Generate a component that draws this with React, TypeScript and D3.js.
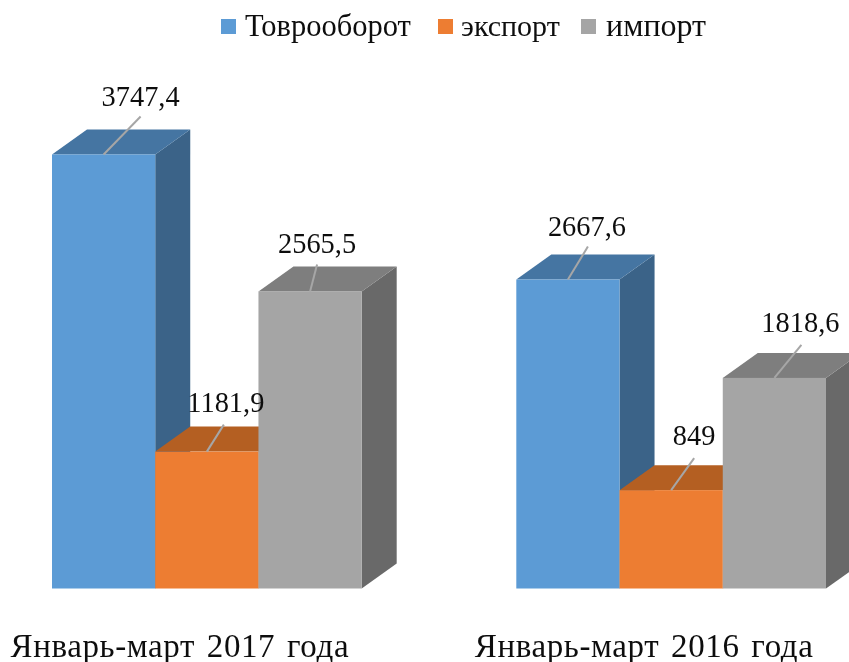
import React from "react";
import * as d3 from "d3";

const categories = ["Январь-март 2017 года", "Январь-март 2016 года"];
const seriesNames = ["Товрооборот", "экспорт", "импорт"];
const turnover = [3747.4, 2667.6];
const exportValues = [1181.9, 849];
const importValues = [2565.5, 1818.6];
const valueLabels = [
  ["3747,4", "2667,6"],
  ["1181,9", "849"],
  ["2565,5", "1818,6"],
];

const frontColors = ["#5B9BD5", "#ED7D31", "#A5A5A5"];
const topColors = ["#4575A2", "#B45F23", "#7E7E7E"];
const sideColors = ["#3A6388", "#B45F23", "#696969"];

// label layout, per series then per category: [label dx, baseline dy, leader end dx, leader end dy]
const labelLayout = [
  [[37, -48.5, 37, -38], [19, -43.5, 20, -33]],
  [[19, -39.5, 17, -27], [23, -45.5, 23, -32]],
  [[7, -38.5, 7, -27], [26, -45.5, 27, -33]],
];

const allSeries = [turnover, exportValues, importValues];
const depthX = 35;
const depthY = 25;
const W = 849;
const H = 662;

const y = d3.scaleLinear().domain([0, 3747.4]).range([588.5, 154.5]);
const xGroup = d3.scaleBand<string>().domain(categories).range([52, 826]).paddingInner(0.333);
const xSeries = d3.scaleBand<string>().domain(seriesNames).range([0, xGroup.bandwidth()]);

const serif = "'Liberation Serif', serif";
const legendX = [221, 438, 581];
const legendTextDx = [24, 23, 25];
const legendFontSize = [30.5, 30, 32];

export default function App() {
  const line = d3.line();
  return (
    <svg
      width={W}
      height={H}
      viewBox={`0 0 ${W} ${H}`}
      style={{ position: "absolute", left: 0, top: 0, display: "block", background: "#fff" }}
    >
      <defs>
        <filter id="soft" x="0" y="0" width="100%" height="100%" filterUnits="userSpaceOnUse" primitiveUnits="userSpaceOnUse">
          <feGaussianBlur stdDeviation="0.45" />
        </filter>
      </defs>
      <g filter="url(#soft)">
        <rect x={0} y={0} width={W} height={H} fill="#fff" />
        {seriesNames.map((name, i) => (
          <g key={name}>
            <rect x={legendX[i]} y={19} width={15} height={15} fill={frontColors[i]} />
            <text x={legendX[i] + legendTextDx[i]} y={36} fontFamily={serif} fontSize={legendFontSize[i]} fill="#111">
              {name}
            </text>
          </g>
        ))}
        {categories.map((cat, c) => {
          const gx = xGroup(cat) as number;
          return (
            <g key={cat}>
              {seriesNames.map((name, s) => {
                const x0 = gx + (xSeries(name) as number);
                const x1 = x0 + xSeries.bandwidth();
                const yTop = y(allSeries[s][c]);
                const yBase = y(0);
                const top = line([[x0, yTop], [x0 + depthX, yTop - depthY], [x1 + depthX, yTop - depthY], [x1, yTop]]) + "Z";
                const side = line([[x1, yTop], [x1 + depthX, yTop - depthY], [x1 + depthX, yBase - depthY], [x1, yBase]]) + "Z";
                return (
                  <g key={name}>
                    <path d={side} fill={sideColors[s]} />
                    <path d={top} fill={topColors[s]} />
                    <rect x={x0} y={yTop} width={x1 - x0} height={yBase - yTop} fill={frontColors[s]} />
                  </g>
                );
              })}
              {seriesNames.map((name, s) => {
                const x0 = gx + (xSeries(name) as number);
                const cx = x0 + xSeries.bandwidth() / 2;
                const yTop = y(allSeries[s][c]);
                const [ldx, ldy, edx, edy] = labelLayout[s][c];
                return (
                  <g key={name}>
                    <path d={line([[cx, yTop], [cx + edx, yTop + edy]]) as string} stroke="#A6A6A6" strokeWidth={2} fill="none" />
                    <text x={cx + ldx} y={yTop + ldy} textAnchor="middle" fontFamily={serif} fontSize={28.4} fill="#111">
                      {valueLabels[s][c]}
                    </text>
                  </g>
                );
              })}
              <text
                x={gx + xGroup.bandwidth() / 2 - 27}
                y={657}
                textAnchor="middle"
                fontFamily={serif}
                fontSize={33}
                wordSpacing={3}
                letterSpacing={0.6}
                fill="#111"
              >
                {cat}
              </text>
            </g>
          );
        })}
      </g>
    </svg>
  );
}
